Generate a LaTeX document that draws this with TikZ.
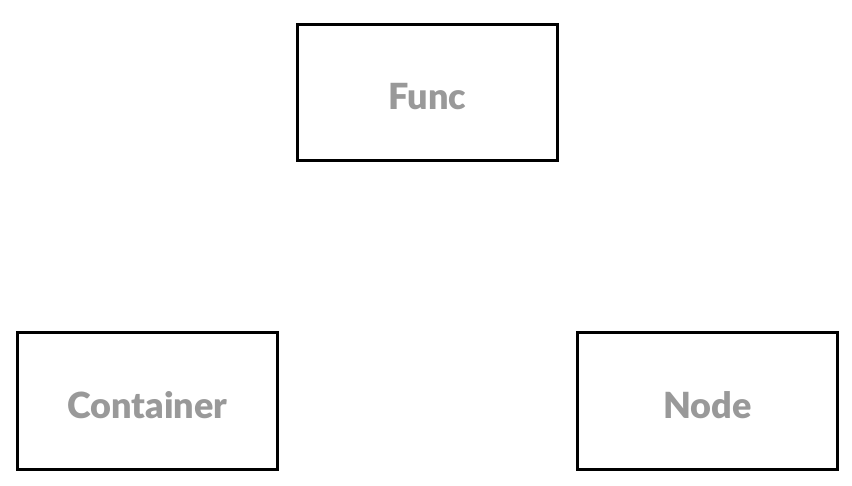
\documentclass[tikz,border=0pt]{standalone}
\usepackage{fontspec}
\setmainfont{Lato}[BoldFont={Lato Black}]
\usetikzlibrary{positioning}
\definecolor{labelgray}{RGB}{153,153,153}

\begin{document}
\begin{tikzpicture}[x=1pt,y=1pt,
    box/.style={draw,line width=3pt,minimum width=260pt,minimum height=136pt,
      text height=35pt,text depth=0pt,
      text=labelgray,font=\fontsize{36}{43}\selectfont\bfseries}]
    \useasboundingbox (0,0) rectangle (852,-486);
    \node[box] (1) at (427.5,-92.5) {Func};
    \node[box] (2) [below left=169.5pt and 17pt of 1] {Container};
    \node[box] (3) [below right=169.5pt and 17pt of 1] {Node};
\end{tikzpicture}
\end{document}
